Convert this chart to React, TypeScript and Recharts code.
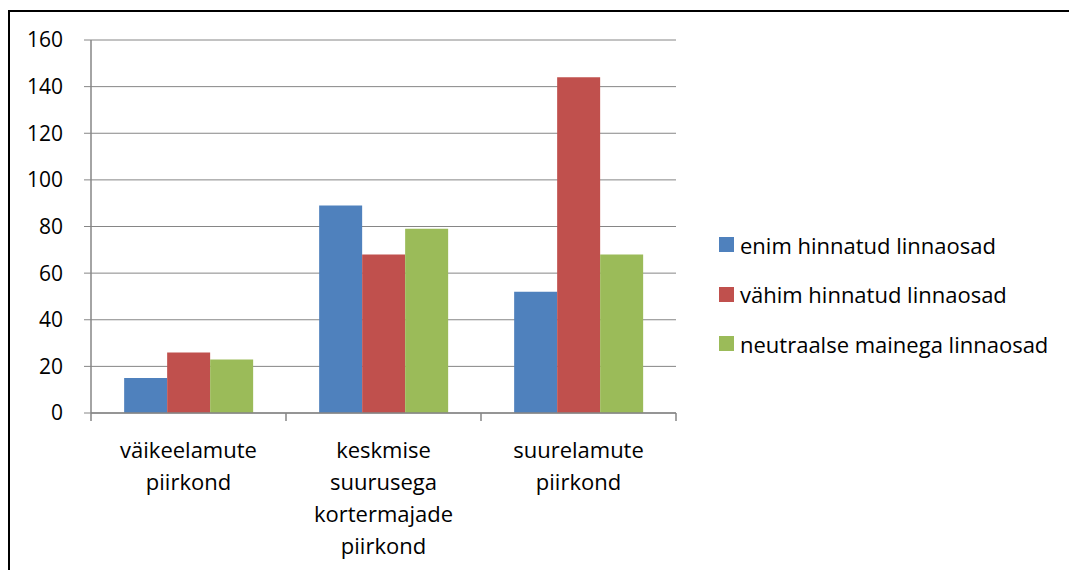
import { Bar, BarChart, CartesianGrid, XAxis, YAxis } from "recharts";

const categories = [
  ["väikeelamute", "piirkond"],
  ["keskmise", "suurusega", "kortermajade", "piirkond"],
  ["suurelamute", "piirkond"],
];
const enim = [15, 89, 52];
const vahim = [26, 68, 144];
const neutraalne = [23, 79, 68];
const yTicks = [0, 20, 40, 60, 80, 100, 120, 140, 160];

const series = [
  { key: "enim", name: "enim hinnatud linnaosad", color: "#4F81BD" },
  { key: "vahim", name: "vähim hinnatud linnaosad", color: "#C0504D" },
  { key: "neutraalne", name: "neutraalse mainega linnaosad", color: "#9BBB59" },
];

const data = categories.map((lines, i) => ({
  name: lines.join(" "),
  enim: enim[i],
  vahim: vahim[i],
  neutraalne: neutraalne[i],
}));

const W = 1069;
const H = 562;
const M = { top: 32, right: 401, bottom: 0, left: 0 };
const Y_W = 83;
const band = (W - M.left - M.right - Y_W) / categories.length;
const font = "'Open Sans', sans-serif";
const FS = 22;
const gray = "#868686";

function CategoryTick(props: any) {
  const { x, y, index } = props;
  const lines = categories[index] || [];
  return (
    <g>
      <line x1={x - band / 2} x2={x - band / 2} y1={y} y2={y + 8} stroke={gray} strokeWidth={1.5} />
      {index === categories.length - 1 && (
        <line x1={x + band / 2} x2={x + band / 2} y1={y} y2={y + 8} stroke={gray} strokeWidth={1.5} />
      )}
      <text x={x} y={y} textAnchor="middle" fontSize={FS} fontFamily={font} fill="#000">
        {lines.map((l, i) => (
          <tspan key={i} x={x} dy={i === 0 ? 45 : 32}>
            {l}
          </tspan>
        ))}
      </text>
    </g>
  );
}

function LegendBox() {
  return (
    <div style={{ position: "absolute", left: 711, top: 212, fontFamily: font, fontSize: FS, color: "#000" }}>
      {series.map((s) => (
        <div key={s.key} style={{ display: "flex", alignItems: "center", height: 49.5 }}>
          <span style={{ width: 15, height: 15, background: s.color, marginRight: 6, flex: "none" }} />
          <span style={{ whiteSpace: "nowrap" }}>{s.name}</span>
        </div>
      ))}
    </div>
  );
}

export default function App() {
  return (
    <div style={{ position: "relative", width: W, height: H }}>
      <div style={{ position: "absolute", left: 0, top: 2, width: W, height: H, borderTop: "2px solid #000", borderLeft: "2px solid #000" }} />
      <BarChart width={W} height={H} data={data} margin={M} barGap={0} barCategoryGap="17%">
        <CartesianGrid vertical={false} stroke={gray} strokeWidth={1} />
        <XAxis
          dataKey="name"
          axisLine={{ stroke: gray, strokeWidth: 1.5 }}
          tickLine={false}
          tickSize={0}
          tickMargin={0}
          tick={<CategoryTick />}
          interval={0}
          height={H - 405 - M.bottom}
        />
        <YAxis
          domain={[0, 160]}
          ticks={yTicks}
          interval={0}
          width={Y_W}
          axisLine={{ stroke: gray, strokeWidth: 1.5 }}
          tickLine={{ stroke: gray, strokeWidth: 1 }}
          tickSize={7}
          tickMargin={21}
          tick={{ fontSize: 21, fontFamily: font, fill: "#000" }}
        />
        {series.map((s) => (
          <Bar key={s.key} dataKey={s.key} name={s.name} fill={s.color} isAnimationActive={false} />
        ))}
      </BarChart>
      <LegendBox />
    </div>
  );
}
